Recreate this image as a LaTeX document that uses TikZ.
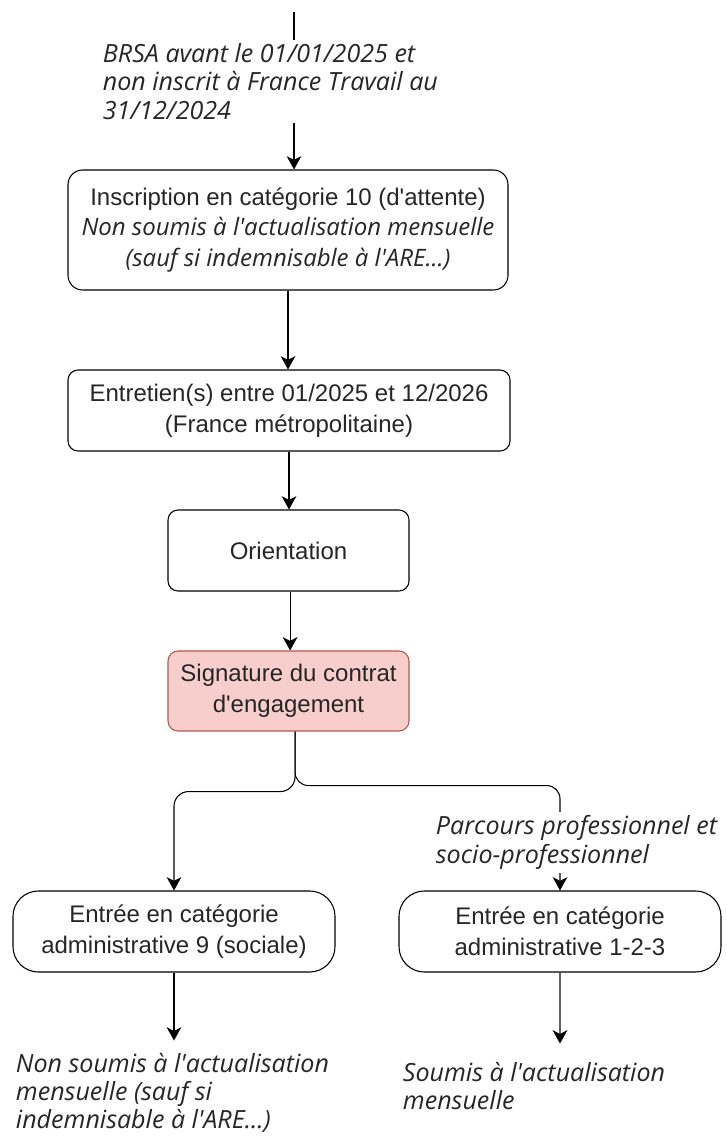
\documentclass[tikz,border=0pt]{standalone}
\usepackage{fontspec}
\setmainfont{Liberation Sans}[Ligatures=TeXOff]
\newfontfamily\comicf{Open Sans}[Ligatures=TeXOff]
\usetikzlibrary{arrows.meta}
\newcommand\myit{\comicf\itshape}
\definecolor{sigfill}{HTML}{F8CECC}
\definecolor{sigdraw}{HTML}{B85450}
\tikzset{
  box/.style={draw=black, line width=0.8pt, fill=white, align=center, text=black!85,
    font=\fontsize{18}{23}\selectfont, inner sep=0pt},
  arr/.style={draw=black, line width=0.8pt, -{Stealth[length=10pt,width=11pt,inset=2.8pt]}},
  arrgray/.style={draw=black!62, line width=1.3pt, -{Stealth[length=10pt,width=11pt,inset=2.8pt,color=black]}},
  lbl/.style={align=left, text=black!85, font=\myit\fontsize{18.8}{21.4}\selectfont,
    inner xsep=2pt, inner ysep=2.5pt},
}
\begin{document}
\begin{tikzpicture}[x=0.75pt,y=-0.75pt]
\useasboundingbox (0,0) rectangle (726,1138);
\coordinate (start) at (294,12);

\node[box, rounded corners=11pt, minimum width=330pt, minimum height=90pt] (insc) at (288,230)
  {Inscription en catégorie 10 (d'attente)\\\myit Non soumis à l'actualisation mensuelle\\\myit (sauf si indemnisable à l'ARE...)};
\node[box, rounded corners=7.5pt, minimum width=331.5pt, minimum height=60.75pt] (entr) at (289,410.5)
  {Entretien(s) entre 01/2025 et 12/2026\\(France métropolitaine)};
\node[box, rounded corners=7.5pt, minimum width=180.75pt, minimum height=60.75pt] (orie) at (288.5,550.5)
  {Orientation};
\node[box, rounded corners=7.5pt, minimum width=180.75pt, minimum height=60pt, fill=sigfill, draw=sigdraw] (sig) at (288.5,691)
  {Signature du contrat\\d'engagement};
\node[box, rounded corners=19pt, minimum width=241.5pt, minimum height=60.75pt] (cat9) at (174,931.5)
  {Entrée en catégorie\\administrative 9 (sociale)};
\node[box, rounded corners=19pt, minimum width=241.5pt, minimum height=60.75pt] (cat123) at (560,931.5)
  {Entrée en catégorie\\administrative 1-2-3};

% connectors
\draw[arr] (start) -- (start |- insc.north);
\draw[arr] (insc.south) -- (insc.south |- entr.north);
\draw[arr] (entr.south) -- (entr.south |- orie.north);
\draw[arr] ([xshift=1.2pt]orie.south) -- ([xshift=1.2pt]orie.south |- sig.north);
\draw[arr, rounded corners=11pt] ([xshift=4.9pt]sig.south) -- ++(0,60) -| (cat9.north);
\draw[arr, rounded corners=10pt] ([xshift=4.9pt]sig.south) -- ++(0,54) -| (cat123.north);
\draw[arr] (cat9.south) -- ++(0,68);
\draw[arrgray] (cat123.south) -- ++(0,71);

% labels
\node[lbl, fill=white, anchor=west] (brsa) at (100,81.5)
  {BRSA avant le 01/01/2025 et\\non inscrit à France Travail au\\31/12/2024};
\node[lbl, fill=white, anchor=west] (parc) at (433,842.5)
  {Parcours professionnel et\\socio-professionnel};
\node[lbl, anchor=west, font=\myit\fontsize{18.8}{20.8}\selectfont] (nsoum) at (13,1093)
  {Non soumis à l'actualisation\\mensuelle (sauf si\\indemnisable à l'ARE...)};
\node[lbl, anchor=west] (soum) at (400,1086)
  {Soumis à l'actualisation\\mensuelle};
\end{tikzpicture}
\end{document}
